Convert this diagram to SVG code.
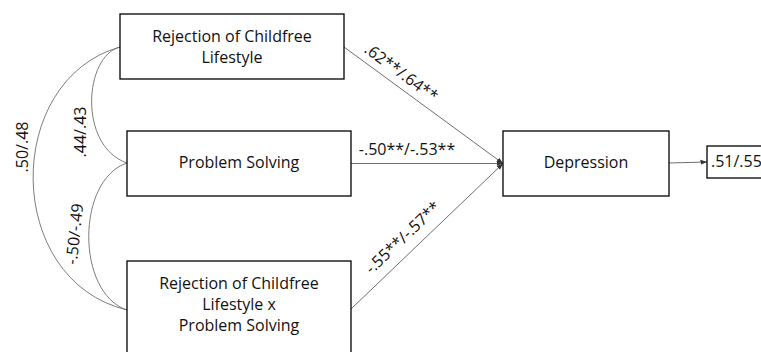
<svg xmlns="http://www.w3.org/2000/svg" width="761" height="352" viewBox="0 0 761 352">
  <defs>
    <style>
      .box { fill: #ffffff; stroke: #000000; stroke-width: 1.3; }
      .txt { font-family: "Open Sans", "Liberation Sans", Arial, sans-serif; font-size: 16px; fill: #111111; }
      .lbl { font-family: "Open Sans", "Liberation Sans", Arial, sans-serif; font-size: 16px; fill: #111111; }
      .path { fill: none; stroke: #6e6e6e; stroke-width: 1; }
      .cov { fill: none; stroke: #6e6e6e; stroke-width: 0.9; }
    </style>
    <marker id="arrow" markerWidth="7" markerHeight="6" refX="6.5" refY="3" orient="auto" markerUnits="userSpaceOnUse">
      <path d="M0,0.5 L6.5,3 L0,5.5 Z" fill="#333333"/>
    </marker>
  </defs>

  <!-- connectors: regression paths and covariances -->
  <g id="connectors">
    <line class="path" x1="344" y1="47" x2="503" y2="163.5" marker-end="url(#arrow)"/>
    <line class="path" x1="351" y1="163.5" x2="503" y2="163.5" marker-end="url(#arrow)"/>
    <line class="path" x1="351" y1="309" x2="503" y2="163.5" marker-end="url(#arrow)"/>
    <line class="path" x1="669" y1="163" x2="707" y2="162" marker-end="url(#arrow)"/>

    <path class="cov" d="M120,47 C84,56 78,146 127,163"/>
    <path class="cov" d="M127,163 C76,180 76,293 127,310"/>
    <path class="cov" d="M120,47 C3,80 3,280 127,310"/>

    <text class="lbl" text-anchor="middle" transform="translate(401,73) rotate(36.3)" y="5">.62**/.64**</text>
    <text class="lbl" text-anchor="middle" x="407" y="155">-.50**/-.53**</text>
    <text class="lbl" text-anchor="middle" transform="translate(403,238) rotate(-43.6)" y="5">-.55**/-.57**</text>
    <text class="lbl" text-anchor="middle" transform="translate(23,147) rotate(-90)" y="5">.50/.48</text>
    <text class="lbl" text-anchor="middle" transform="translate(81,132) rotate(-90)" y="5">.44/.43</text>
    <text class="lbl" text-anchor="middle" transform="translate(75,234) rotate(-84)" y="5">-.50/-.49</text>
  </g>

  <g id="rejection">
    <rect class="box" x="120" y="14" width="224" height="65"/>
    <text class="txt" text-anchor="middle" x="232" y="42">Rejection of Childfree</text>
    <text class="txt" text-anchor="middle" x="232" y="63">Lifestyle</text>
  </g>

  <g id="problem-solving">
    <rect class="box" x="127" y="131" width="224" height="65"/>
    <text class="txt" text-anchor="middle" x="239" y="168">Problem Solving</text>
  </g>

  <g id="interaction">
    <rect class="box" x="127" y="261" width="224" height="110"/>
    <text class="txt" text-anchor="middle" x="239" y="289">Rejection of Childfree</text>
    <text class="txt" text-anchor="middle" x="239" y="310">Lifestyle x</text>
    <text class="txt" text-anchor="middle" x="239" y="331">Problem Solving</text>
  </g>

  <g id="depression">
    <rect class="box" x="503" y="131" width="166" height="65"/>
    <text class="txt" text-anchor="middle" x="586" y="168">Depression</text>
  </g>

  <g id="r-squared">
    <rect class="box" x="707" y="146" width="70" height="32"/>
    <text class="lbl" x="711" y="167" font-size="14">.51/.55</text>
  </g>
</svg>
